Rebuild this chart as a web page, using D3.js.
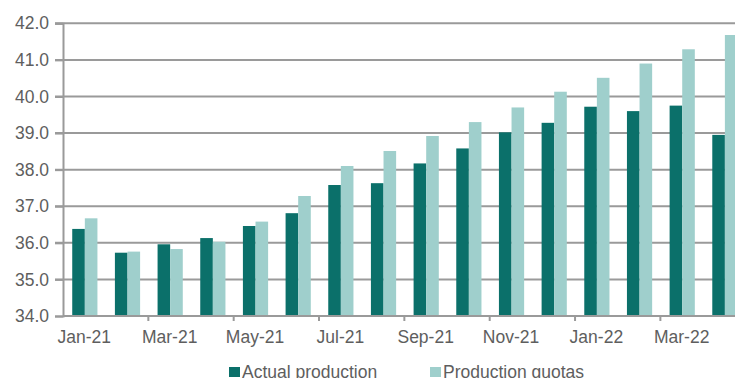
<!DOCTYPE html>
<html><head><meta charset="utf-8">
<script src="https://cdn.jsdelivr.net/npm/d3@7"></script>
<style>body{margin:0;background:#fff}svg{display:block}text{font-family:"Liberation Sans",Arial,sans-serif}</style>
</head><body><svg id="c" width="735" height="378"></svg>
<script>
const categories = ["Jan-21","Feb-21","Mar-21","Apr-21","May-21","Jun-21","Jul-21","Aug-21","Sep-21","Oct-21","Nov-21","Dec-21","Jan-22","Feb-22","Mar-22","Apr-22"];
const actualProduction = [36.38,35.73,35.96,36.13,36.46,36.81,37.58,37.63,38.17,38.58,39.02,39.28,39.72,39.60,39.75,38.95];
const productionQuotas = [36.67,35.76,35.83,36.03,36.58,37.28,38.10,38.51,38.92,39.30,39.70,40.13,40.51,40.90,41.29,41.68];
const yTicks = [34,35,36,37,38,39,40,41,42];
const seriesNames = ["Actual production","Production quotas"];
const colors = ["#0b706a","#9fcfcc"];

const svg = d3.select("#c");
const x0 = 63, x1 = 63 + 16*42.67;
const x = d3.scaleBand().domain(categories).range([x0, x1]).paddingInner(0).paddingOuter(0);
const y = d3.scaleLinear().domain([34,42]).range([316, 23.3]);
const bw = 12.6;
const txt = "#5e5e5e";

// gridlines
svg.append("g").selectAll("line").data(yTicks.slice(1)).join("line")
  .attr("x1", x0-8).attr("x2", 735).attr("y1", d=>y(d)).attr("y2", d=>y(d))
  .attr("stroke","#9a9a9a").attr("stroke-width",2);

// y axis
const ya = svg.append("g").attr("transform",`translate(${x0},0)`)
  .call(d3.axisLeft(y).tickValues(yTicks).tickFormat(d3.format(".1f")).tickSize(8));
ya.select(".domain").attr("stroke","#9a9a9a").attr("stroke-width",2);
ya.selectAll(".tick line").attr("stroke","#9a9a9a").attr("stroke-width",2);
ya.selectAll("text").attr("fill",txt).style("font-size","17.5px").attr("x",-14);

// bars
const g = svg.append("g");
categories.forEach((c,i)=>{
  const cx = x(c) + x.bandwidth()/2 + 0.5;
  [actualProduction[i], productionQuotas[i]].forEach((v,j)=>{
    g.append("rect").attr("x", cx - bw + j*bw).attr("width", bw)
      .attr("y", y(v)).attr("height", y(34)-y(v)).attr("fill", colors[j]);
  });
});

// x axis
svg.append("line").attr("x1",x0).attr("x2",735).attr("y1",y(34)).attr("y2",y(34))
  .attr("stroke","#9a9a9a").attr("stroke-width",2);
const xt = svg.append("g");
categories.forEach((c,i)=>{
  if (i%2===0 && i>0) {
    xt.append("line").attr("x1",x(c)).attr("x2",x(c)).attr("y1",y(34)).attr("y2",y(34)+5)
      .attr("stroke","#9a9a9a").attr("stroke-width",2);
  }
  if (i%2===0) {
    xt.append("text").attr("x", x(c)+x.bandwidth()/2).attr("y",343)
      .attr("text-anchor","middle").attr("fill",txt).style("font-size","17.5px").text(c);
  }
});

// legend
const leg = [{x:229, tx:242},{x:430, tx:443}];
seriesNames.forEach((n,i)=>{
  svg.append("rect").attr("x",leg[i].x).attr("y",367).attr("width",11).attr("height",10).attr("fill",colors[i]);
  svg.append("text").attr("x",leg[i].tx).attr("y",377.5).attr("fill",txt).style("font-size","17.5px").text(n);
});
</script></body></html>
